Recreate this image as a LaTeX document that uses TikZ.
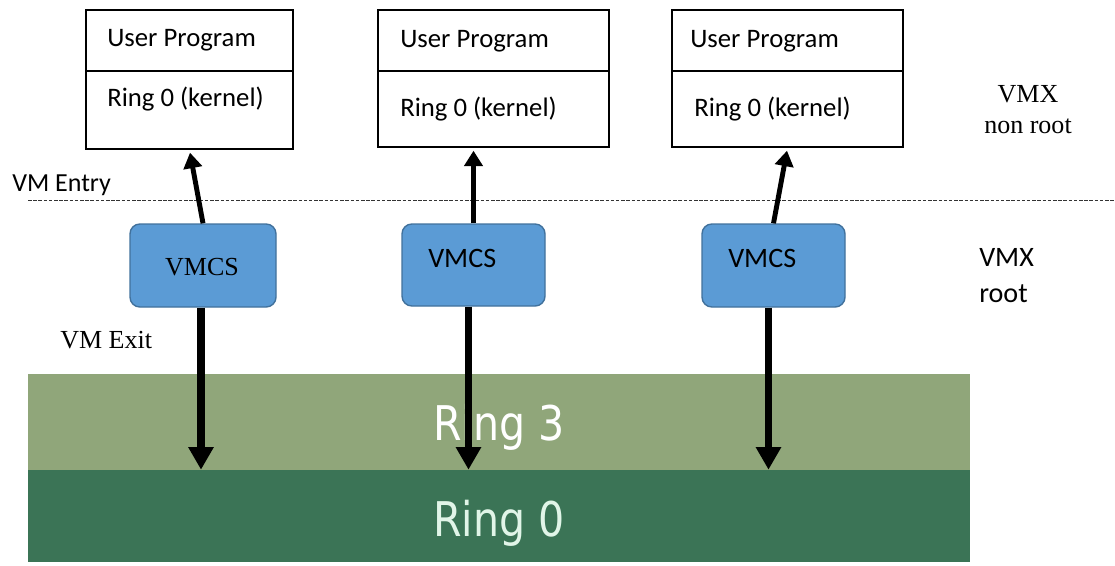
\documentclass[tikz,border=0pt]{standalone}
\usepackage{fontspec}
\setmainfont{Liberation Serif}
\setsansfont{Carlito}
\newfontfamily\ringfont{DejaVu Sans}
\usetikzlibrary{arrows.meta,calc,fit}

\definecolor{vmcsfill}{RGB}{91,155,213}
\definecolor{vmcsline}{RGB}{65,113,156}
\definecolor{ringthree}{RGB}{144,166,122}
\definecolor{ringzero}{RGB}{59,116,86}
\definecolor{ringzerotxt}{RGB}{225,245,232}

\begin{document}
\begin{tikzpicture}[x=0.025cm, y=-0.025cm,
    part/.style={draw, line width=1.3pt, inner sep=0pt},
    lbl/.style={anchor=base west, inner sep=0pt, font=\sffamily\fontsize{19}{22}\selectfont},
    big/.style={lbl, font=\sffamily\fontsize{20}{24}\selectfont},
    serif/.style={anchor=base, inner sep=0pt, font=\rmfamily\fontsize{18.5}{22}\selectfont},
    vmcs/.style={draw=vmcsline, fill=vmcsfill, line width=1pt, rounded corners=7pt, inner sep=0pt},
    band/.style={inner sep=0pt},
    ringlbl/.style={anchor=base, inner sep=0pt, font=\ringfont\fontsize{34}{40}\selectfont},
    up/.style={line width=3.5pt, -{Triangle[width=13pt,length=11pt]}, shorten >=2pt},
    down/.style={line width=5.5pt, -{Triangle[width=17pt,length=16pt]}},
    entry/.style={dash pattern=on 2.5pt off 1.2pt, line width=0.6pt, black!80},
  ]
  \useasboundingbox (0,0) rectangle (1115,565);

  % host rings
  \node [band, fill=ringthree, fit={(28,374)(970,470)}] (r3) {};
  \node [band, fill=ringzero, fit={(28,470)(970,562)}] (r0) {};
  \node [ringlbl, text=white] (r3t) at (499,440) {\scalebox{.86}[1]{Ring 3}};
  \node [ringlbl, text=ringzerotxt] (r0t) at (499,536) {\scalebox{.86}[1]{Ring 0}};

  % guests
  \node [part, fit={(86,10)(293,71)}] (u1) {};
  \node [part, fit={(86,71)(293,149)}] (k1) {};
  \node [part, fit={(378,10)(609,71)}] (u2) {};
  \node [part, fit={(378,71)(609,147)}] (k2) {};
  \node [part, fit={(672,10)(903,71)}] (u3) {};
  \node [part, fit={(672,71)(903,147)}] (k3) {};

  \node [lbl] (ut1) at (107,47) {User Program};
  \node [lbl] (kt1) at (107,106) {Ring 0 (kernel)};
  \node [lbl] (ut2) at (400,48) {User Program};
  \node [lbl] (kt2) at (400,116) {Ring 0 (kernel)};
  \node [lbl] (ut3) at (690,48) {User Program};
  \node [lbl] (kt3) at (694,116) {Ring 0 (kernel)};

  % control structures
  \node [vmcs, fit={(130,224)(276,307)}] (c1) {};
  \node [vmcs, fit={(402,224)(545,306)}] (c2) {};
  \node [vmcs, fit={(702,224)(845,307)}] (c3) {};

  \node [serif] (ct1) at (202,275) {VMCS};
  \node [big] (ct2) at (428,267) {VMCS};
  \node [big] (ct3) at (728,267) {VMCS};

  % entry line
  \draw [entry] (28,200) -- (1115,200);
  \node [lbl, font=\sffamily\fontsize{18.5}{22}\selectfont] (ent) at (12,191) {VM Entry};
  \node [serif, anchor=base west] (ext) at (60,348) {VM Exit};

  \node [serif] (nr1) at (1028,102) {VMX};
  \node [serif] (nr2) at (1028,133) {non root};
  \node [big] (rt1) at (979,266) {VMX};
  \node [big] (rt2) at (979,302) {root};

  % transitions
  \draw [up] (c1.north) -- (k1.south);
  \draw [up] (c2.north) -- (c2.north |- k2.south);
  \draw [up] (c3.north) -- (k3.south);

  \coordinate (d1) at ($(c1.south)+(-2,0)$);
  \coordinate (d2) at ($(c2.south)+(-5,0)$);
  \coordinate (d3) at ($(c3.south)+(-5,0)$);
  \draw [down] (d1) -- (d1 |- r0.north);
  \draw [down] (d2) -- (d2 |- r0.north);
  \draw [down] (d3) -- (d3 |- r0.north);
\end{tikzpicture}
\end{document}
